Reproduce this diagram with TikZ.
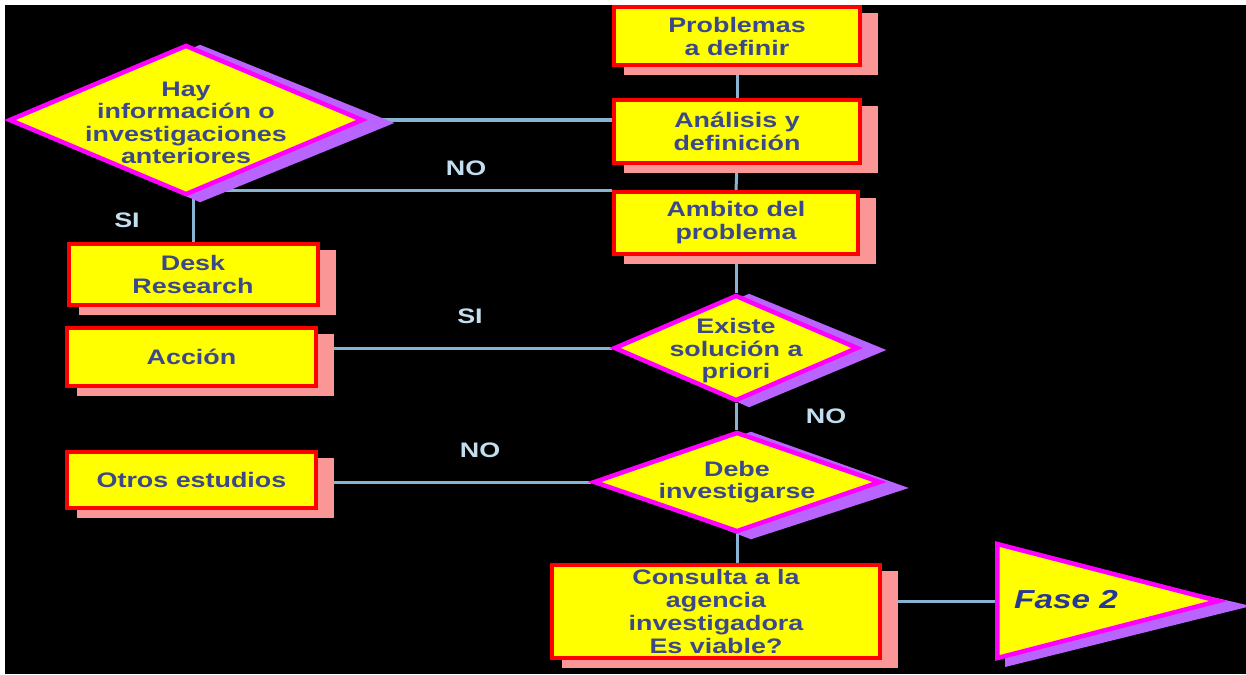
\documentclass[tikz,border=0pt]{standalone}
\usepackage{fontspec}
\setmainfont{Liberation Sans}[FakeStretch=1.28]
\usetikzlibrary{shapes.geometric,calc}
\definecolor{boxyellow}{RGB}{255,255,0}
\definecolor{boxred}{RGB}{255,0,0}
\definecolor{boxshadow}{RGB}{250,150,150}
\definecolor{dmag}{RGB}{255,0,255}
\definecolor{dshadow}{RGB}{185,100,255}
\definecolor{txtblue}{RGB}{60,72,140}
\definecolor{fasetxt}{RGB}{40,55,150}
\definecolor{linkblue}{RGB}{135,180,210}
\definecolor{lblblue}{RGB}{195,222,238}
\pgfdeclarelayer{bg}
\pgfdeclarelayer{links}
\pgfdeclarelayer{shade}
\pgfsetlayers{bg,links,shade,main}
\tikzset{
  box/.style={rectangle, draw=boxred, line width=4pt, fill=boxyellow, inner sep=0pt,
    align=center, text=txtblue, font=\bfseries\fontsize{21}{23}\selectfont},
  dia/.style={diamond, draw=dmag, line width=4.5pt, fill=boxyellow, inner sep=0pt},
  dtext/.style={align=center, text=txtblue, font=\bfseries\fontsize{21}{22.5}\selectfont, inner sep=0pt},
  link/.style={draw=linkblue, line width=3pt},
  lbl/.style={text=lblblue, font=\bfseries\fontsize{21}{23}\selectfont, inner sep=0pt},
  boxshade/.style={fill=boxshadow},
  diashade/.style={fill=dshadow},
}
\newcommand{\myboxshade}[1]{\fill[boxshade] ($(#1.north west)+(12,8)$) rectangle ($(#1.south east)+(16,8)$);}
\begin{document}
\begin{tikzpicture}[x=1pt,y=-1pt]
\useasboundingbox (0,0) rectangle (1246,674);
\begin{pgfonlayer}{bg}
  \fill[white] (0,0) rectangle (1246,674);
  \fill[black] (5,5) rectangle (1246,674);
\end{pgfonlayer}

% boxes
\node[box, minimum width=246, minimum height=58] (Prob) at (737,36) {Problemas\\a definir};
\node[box, minimum width=246, minimum height=63] (Anal) at (737,131.5) {Análisis y\\definición};
\node[box, minimum width=244, minimum height=62] (Amb) at (736,223) {Ambito del\\problema};
\node[box, minimum width=249, minimum height=61] (Desk) at (193,274.5) {Desk\\Research};
\node[box, minimum width=249, minimum height=58] (Acc) at (191.5,357) {Acción};
\node[box, minimum width=249, minimum height=56] (Otros) at (191.5,480) {Otros estudios};
\node[box, minimum width=328, minimum height=93] (Cons) at (716,611.5) {Consulta a la\\agencia\\investigadora\\Es viable?};

% diamonds
\node[dia, minimum width=354, minimum height=150] (Hay) at (186,120) {};
\node[dtext] (HayT) at ($(Hay.center)+(0,3)$) {Hay\\información o\\investigaciones\\anteriores};
\node[dia, minimum width=244, minimum height=106] (Exi) at (736,348) {};
\node[dtext] (ExiT) at ($(Exi.center)+(0,3)$) {Existe\\solución a\\priori};
\node[dia, minimum width=287, minimum height=100] (Debe) at (737,482) {};
\node[dtext] (DebeT) at (Debe.center) {Debe\\investigarse};

% Fase 2 triangle
\node[isosceles triangle, isosceles triangle stretches, shape border rotate=0,
      draw=dmag, line width=4.5pt, fill=boxyellow, inner sep=0pt,
      minimum width=114, minimum height=221, anchor=lower side] (Fase) at (995,601) {};
\node[text=fasetxt, font=\bfseries\itshape\fontsize{26}{28}\selectfont, inner sep=0pt] (FaseT) at (1066,600) {Fase 2};

% shadows
\begin{pgfonlayer}{shade}
  \myboxshade{Prob}
  \myboxshade{Anal}
  \myboxshade{Amb}
  \myboxshade{Desk}
  \myboxshade{Acc}
  \myboxshade{Otros}
  \myboxshade{Cons}
  \fill[diashade] ($(Hay.north)+(14,2)$) -- ($(Hay.east)+(29,3)$) -- ($(Hay.south)+(14,5)$) -- ($(Hay.west)+(14,4)$) -- cycle;
  \fill[diashade] ($(Exi.north)+(13,1)$) -- ($(Exi.east)+(26,2)$) -- ($(Exi.south)+(13,4)$) -- ($(Exi.west)+(13,2)$) -- cycle;
  \fill[diashade] ($(Debe.north)+(14,2)$) -- ($(Debe.east)+(26,6)$) -- ($(Debe.south)+(14,5)$) -- ($(Debe.west)+(14,2)$) -- cycle;
  \fill[diashade] ($(Fase.apex)+(27,5)$) -- ($(Fase.lower side)+(10,66)$) -- ($(Fase.lower side)+(10,-52)$) -- cycle;
\end{pgfonlayer}

% connectors
\begin{pgfonlayer}{links}
  \draw[link] (Prob.south) -- (Anal.north);
  \draw[link] (Anal.south) -- (Amb.north);
  \draw[link] (Hay.east) -- (Hay.east -| Anal.west);
  \draw[link] (Amb.north west) -- (Amb.north west -| Desk.north) -- (Desk.north);
  \draw[link] (Amb.south) -- (Amb.south |- Exi.north);
  \draw[link] (Exi.west) -- (Exi.west -| Acc.east);
  \draw[link] (Exi.south) -- (Exi.south |- Debe.north);
  \draw[link] (Debe.west) -- (Debe.west -| Otros.east);
  \draw[link] (Debe.south) -- (Debe.south |- Cons.north);
  \draw[link] (Fase.lower side) -- (Fase.lower side -| Cons.east);
\end{pgfonlayer}

% branch labels
\node[lbl] (no1) at (466,168) {NO};
\node[lbl] (si1) at (127,220) {SI};
\node[lbl] (si2) at (470,316) {SI};
\node[lbl] (no2) at (826,416) {NO};
\node[lbl] (no3) at (480,450) {NO};
\end{tikzpicture}
\end{document}
